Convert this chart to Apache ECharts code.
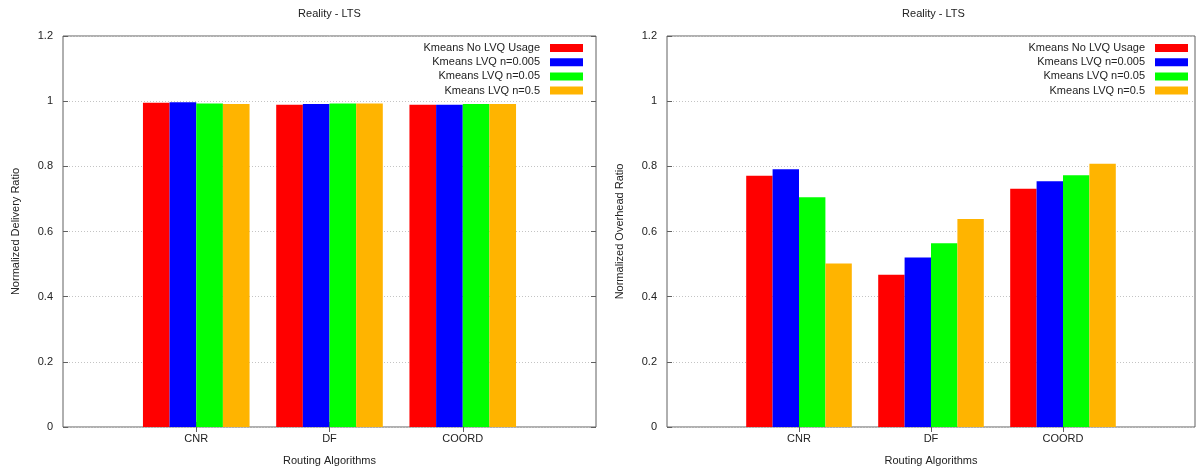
<!DOCTYPE html>
<html>
<head>
<meta charset="utf-8">
<script src="https://cdn.jsdelivr.net/npm/echarts@6/dist/echarts.min.js"></script>
<style>
  html, body { margin: 0; padding: 0; background: #fff; }
  #wrap { position: relative; width: 1198px; height: 471px; overflow: hidden; }
  #c1 { position: absolute; left: 0; top: 0; width: 599px; height: 471px; }
  #c2 { position: absolute; left: 599px; top: 0; width: 599px; height: 471px; }
</style>
</head>
<body>
<div id="wrap"><div id="c1"></div><div id="c2"></div></div>
<script>
// ---- data ----
const categories = ['CNR', 'DF', 'COORD'];
const seriesNames = ['Kmeans No LVQ Usage', 'Kmeans LVQ n=0.005', 'Kmeans LVQ n=0.05', 'Kmeans LVQ n=0.5'];
const seriesColors = ['#ff0000', '#0000ff', '#00ff00', '#ffb400'];

const deliveryNoLVQ   = [0.995, 0.989, 0.989];
const deliveryLVQ0005 = [0.997, 0.991, 0.989];
const deliveryLVQ005  = [0.993, 0.993, 0.991];
const deliveryLVQ05   = [0.991, 0.993, 0.991];

const overheadNoLVQ   = [0.771, 0.467, 0.731];
const overheadLVQ0005 = [0.791, 0.520, 0.754];
const overheadLVQ005  = [0.705, 0.564, 0.773];
const overheadLVQ05   = [0.502, 0.638, 0.808];

const yMin = 0, yMax = 1.2, yInterval = 0.2;
const titleText = 'Reality - LTS';
const xName = 'Routing Algorithms';

// ---- build ----
const FONT = 'Liberation Sans, Arial, sans-serif';
const FRAME = '#606060';
const paddedCats = [''].concat(categories, ['']);
const innerTick = (idx) => idx > 0 && idx < paddedCats.length - 1;

function buildOption(cfg) {
  const xBase = {
    type: 'category', data: paddedCats, boundaryGap: false,
    axisLine: { show: false },
    axisTick: { show: true, inside: true, length: 5, interval: innerTick, lineStyle: { color: FRAME } },
    splitLine: { show: false }
  };
  const yBase = {
    type: 'value', min: yMin, max: yMax, interval: yInterval,
    axisLine: { show: false },
    axisTick: { show: true, inside: true, length: 5, lineStyle: { color: FRAME } }
  };
  return {
    animation: false,
    textStyle: { fontFamily: FONT },
    title: {
      text: titleText, left: cfg.titleCenter, top: 8, textAlign: 'center', padding: 0,
      textStyle: { fontSize: 11, fontWeight: 'normal', color: '#222', fontFamily: FONT }
    },
    legend: {
      orient: 'vertical', align: 'right', right: cfg.legendRight, top: 42, padding: 0,
      itemWidth: 33, itemHeight: 8, itemGap: 2.2, icon: 'rect',
      selectedMode: false,
      textStyle: { fontSize: 11, color: '#222', lineHeight: 12, padding: [0, 5, 0, 0], fontFamily: FONT },
      data: seriesNames
    },
    grid: {
      left: cfg.gridLeft, width: 533, top: 36, height: 392,
      show: true, borderColor: FRAME, borderWidth: 1, backgroundColor: '#fff'
    },
    xAxis: [
      Object.assign({}, xBase, {
        position: 'bottom',
        name: xName, nameLocation: 'middle', nameGap: 28,
        nameTextStyle: { fontSize: 11, color: '#222', fontFamily: FONT },
        axisLabel: { show: true, fontSize: 11, color: '#222', margin: 6, fontFamily: FONT }
      }),
      Object.assign({}, xBase, { position: 'top', axisLabel: { show: false } })
    ],
    yAxis: [
      Object.assign({}, yBase, {
        position: 'left',
        name: cfg.yName, nameLocation: 'middle', nameRotate: 90, nameGap: 42,
        nameTextStyle: { fontSize: 11, color: '#222', fontFamily: FONT },
        axisLabel: { show: true, fontSize: 11, color: '#222', margin: 10, fontFamily: FONT },
        splitLine: { show: true, lineStyle: { color: '#c4c4c4', type: [1, 2], width: 1 } }
      }),
      Object.assign({}, yBase, {
        position: 'right', show: cfg.mirrorY, axisLabel: { show: false }, splitLine: { show: false }
      })
    ],
    series: cfg.values.map((vals, i) => ({
      name: seriesNames[i], type: 'bar', xAxisIndex: 0, yAxisIndex: 0,
      barGap: '0%', barCategoryGap: '20%',
      itemStyle: { color: seriesColors[i] },
      data: [null].concat(vals, [null])
    }))
  };
}

const c1 = echarts.init(document.getElementById('c1'), null, { renderer: 'canvas' });
c1.setOption(buildOption({
  titleCenter: 329.5, legendRight: 16, gridLeft: 63, mirrorY: true,
  yName: 'Normalized Delivery Ratio',
  values: [deliveryNoLVQ, deliveryLVQ0005, deliveryLVQ005, deliveryLVQ05]
}));

const c2 = echarts.init(document.getElementById('c2'), null, { renderer: 'canvas' });
c2.setOption(buildOption({
  titleCenter: 334.5, legendRight: 10, gridLeft: 68, mirrorY: false,
  yName: 'Normalized Overhead Ratio',
  values: [overheadNoLVQ, overheadLVQ0005, overheadLVQ005, overheadLVQ05]
}));
</script>
</body>
</html>
